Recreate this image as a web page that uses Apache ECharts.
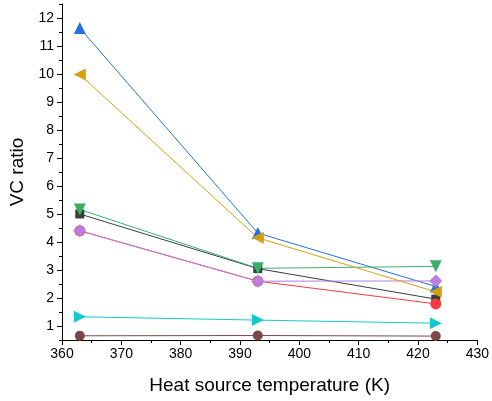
<!DOCTYPE html>
<html><head><meta charset="utf-8">
<script src="https://cdn.jsdelivr.net/npm/echarts@6/dist/echarts.min.js"></script>
<style>html,body{margin:0;padding:0;background:#fff}#c{width:492px;height:401px}</style>
</head><body><div id="c"></div>
<script>
const temps = [363, 393, 423];
const black  = [5.00, 3.05, 1.96];
const red    = [4.40, 2.60, 1.79];
const blue   = [11.64, 4.32, 2.41];
const green  = [5.16, 3.06, 3.13];
const purple = [4.40, 2.60, 2.61];
const yellow = [9.98, 4.15, 2.22];
const cyan   = [1.33, 1.21, 1.10];
const brown  = [0.65, 0.66, 0.64];
const yMajor = [1,2,3,4,5,6,7,8,9,10,11,12];
const yMinor = [0.5,1.5,2.5,3.5,4.5,5.5,6.5,7.5,8.5,9.5,10.5,11.5,12.5];

const font = 'Liberation Sans, Arial, sans-serif';
function s(name, data, color, symbol, rot, size) {
  return {
    name, type: 'line', data: temps.map((t, i) => [t, data[i]]),
    symbol, symbolRotate: rot, symbolSize: size,
    lineStyle: {color, width: 1}, itemStyle: {color},
    emphasis: {disabled: true}
  };
}
const chart = echarts.init(document.getElementById('c'));
chart.setOption({
  animation: false,
  grid: {left: 62, right: 13, top: 4, bottom: 61},
  xAxis: {
    type: 'value', min: 360, max: 430, interval: 10,
    name: 'Heat source temperature (K)', nameLocation: 'middle', nameGap: 36,
    nameTextStyle: {fontFamily: font, fontSize: 19, color: '#000'},
    axisLine: {lineStyle: {color: '#000', width: 1}},
    axisTick: {show: true, length: 5, lineStyle: {color: '#000'}},
    minorTick: {show: true, splitNumber: 2, length: 3, lineStyle: {color: '#000'}},
    axisLabel: {fontFamily: font, fontSize: 14, color: '#000', margin: 7},
    splitLine: {show: false}
  },
  yAxis: [{
    type: 'value', min: 0.5, max: 12.5,
    name: 'VC ratio', nameLocation: 'middle', nameGap: 35,
    nameTextStyle: {fontFamily: font, fontSize: 19, color: '#000'},
    axisLine: {show: true, lineStyle: {color: '#000', width: 1}},
    axisTick: {show: true, length: 5, customValues: yMajor, lineStyle: {color: '#000'}},
    axisLabel: {fontFamily: font, fontSize: 14, color: '#000', margin: 8, customValues: yMajor},
    splitLine: {show: false}
  }, {
    type: 'value', min: 0.5, max: 12.5, position: 'left',
    axisLine: {show: false},
    axisTick: {show: true, length: 3, customValues: yMinor, lineStyle: {color: '#000'}},
    axisLabel: {show: false, customValues: yMinor},
    splitLine: {show: false}
  }],
  series: [
    s('a', black, '#3c3c3c', 'rect', 0, 9),
    s('b', red, '#f53c3c', 'circle', 0, 11),
    s('c', blue, '#2370df', 'triangle', 0, 12),
    s('d', green, '#38b06c', 'triangle', 180, 12),
    s('e', purple, '#b97ee0', 'diamond', 0, 13),
    s('f', yellow, '#d6a00c', 'triangle', 90, 12),
    s('g', cyan, '#12c9cc', 'triangle', -90, 12),
    s('h', brown, '#7a4848', 'circle', 0, 10)
  ]
});
</script></body></html>
